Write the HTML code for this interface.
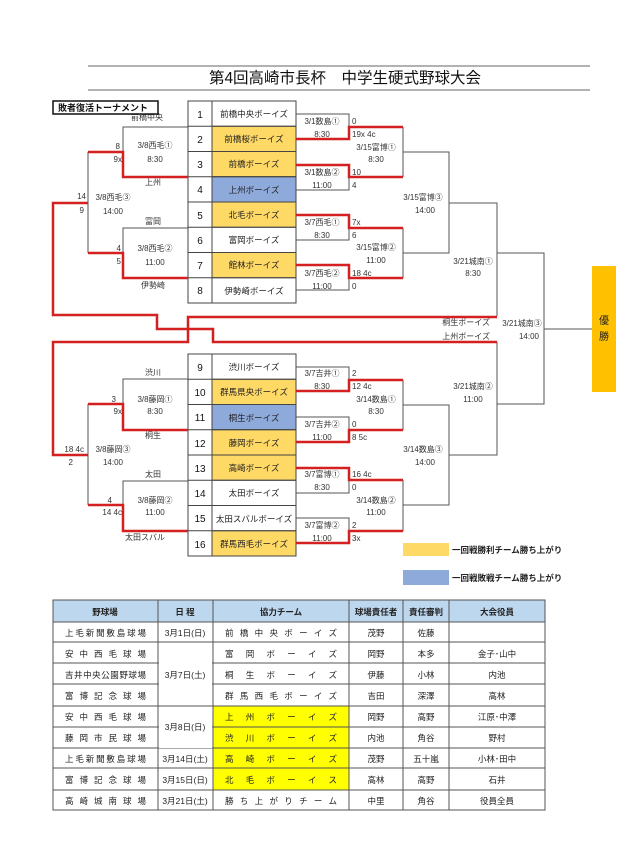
<!DOCTYPE html>
<html><head><meta charset="utf-8"><style>
html,body{margin:0;padding:0;background:#fff;}
svg{display:block;font-family:"Liberation Sans","Noto Sans CJK JP",sans-serif;}
.s{font-size:8px;fill:#333;}
.n{font-size:10px;fill:#111;text-anchor:middle;}
.k{stroke:#555;stroke-width:1;fill:none;}
.r{stroke:#d42020;stroke-width:2.5;fill:none;}
.t{font-size:8.5px;fill:#222;text-anchor:middle;}
.v{text-anchor:start;}
</style></head><body>
<svg width="640" height="861" viewBox="0 0 640 861">
<line x1="88" y1="66" x2="590" y2="66" stroke="#666"/>
<line x1="88" y1="90" x2="590" y2="90" stroke="#666"/>
<text x="345" y="83" font-size="15.5" text-anchor="middle" fill="#111">第4回高崎市長杯　中学生硬式野球大会</text>
<rect x="53" y="101" width="105" height="13" fill="#fff" stroke="#111" stroke-width="1.5"/>
<text x="58" y="111" font-size="9" font-weight="bold" fill="#111">敗者復活トーナメント</text>

<g stroke="#444" stroke-width="1">
<rect x="188" y="101" width="24" height="202" fill="#fff"/>
<rect x="212" y="101" width="84" height="202" fill="#fff"/>
<rect x="188" y="354" width="24" height="202" fill="#fff"/>
<rect x="212" y="354" width="84" height="202" fill="#fff"/>
<rect x="212" y="126.25" width="84" height="25.25" fill="#ffd966"/>
<rect x="212" y="151.5" width="84" height="25.25" fill="#ffd966"/>
<rect x="212" y="176.75" width="84" height="25.25" fill="#8eaadb"/>
<rect x="212" y="202" width="84" height="25.25" fill="#ffd966"/>
<rect x="212" y="252.5" width="84" height="25.25" fill="#ffd966"/>
<rect x="212" y="379.25" width="84" height="25.25" fill="#ffd966"/>
<rect x="212" y="404.5" width="84" height="25.25" fill="#8eaadb"/>
<rect x="212" y="429.75" width="84" height="25.25" fill="#ffd966"/>
<rect x="212" y="455" width="84" height="25.25" fill="#ffd966"/>
<rect x="212" y="530.75" width="84" height="25.25" fill="#ffd966"/>
<path d="M188 126.25H296M188 151.5H296M188 176.75H296M188 202H296M188 227.25H296M188 252.5H296M188 277.75H296"/>
<path d="M188 379.25H296M188 404.5H296M188 429.75H296M188 455H296M188 480.25H296M188 505.5H296M188 530.75H296"/>
</g>
<g>
<text class="n" x="200" y="118">1</text><text class="t" x="254" y="117">前橋中央ボーイズ</text>
<text class="n" x="200" y="143">2</text><text class="t" x="254" y="142">前橋桜ボーイズ</text>
<text class="n" x="200" y="168">3</text><text class="t" x="254" y="167">前橋ボーイズ</text>
<text class="n" x="200" y="193">4</text><text class="t" x="254" y="193">上州ボーイズ</text>
<text class="n" x="200" y="219">5</text><text class="t" x="254" y="218">北毛ボーイズ</text>
<text class="n" x="200" y="244">6</text><text class="t" x="254" y="243">富岡ボーイズ</text>
<text class="n" x="200" y="269">7</text><text class="t" x="254" y="268">館林ボーイズ</text>
<text class="n" x="200" y="294">8</text><text class="t" x="254" y="294">伊勢崎ボーイズ</text>
<text class="n" x="200" y="371">9</text><text class="t" x="254" y="370">渋川ボーイズ</text>
<text class="n" x="200" y="396">10</text><text class="t" x="254" y="395">群馬県央ボーイズ</text>
<text class="n" x="200" y="421">11</text><text class="t" x="254" y="421">桐生ボーイズ</text>
<text class="n" x="200" y="447">12</text><text class="t" x="254" y="446">藤岡ボーイズ</text>
<text class="n" x="200" y="472">13</text><text class="t" x="254" y="471">高崎ボーイズ</text>
<text class="n" x="200" y="497">14</text><text class="t" x="254" y="496">太田ボーイズ</text>
<text class="n" x="200" y="522">15</text><text class="t" x="254" y="522">太田スバルボーイズ</text>
<text class="n" x="200" y="548">16</text><text class="t" x="254" y="547">群馬西毛ボーイズ</text>
</g>

<g class="k">
<path d="M188 127H123V177M188 228H123V278M88 152V253"/>
<path d="M188 379H123V430M188 481H123V531M88 404V505"/>
<path d="M296 114H349V139M296 190H349V165M296 240H349V215M296 290H349V265"/>
<path d="M403 127V177M403 228V278M403 152H449V253H403M449 203H497V316M497 253H544V404H497M544 329H592"/>
<path d="M296 367H349V391M296 417H349V442M296 493H349V468M296 518H349V543"/>
<path d="M403 380V430M403 480V531M403 405H449V505H403M449 455H497V342"/>
</g>
<g class="r">
<path d="M296 139H349V127H403M296 165H349V177H403"/>
<path d="M296 215H349V228H403M296 265H349V278H403"/>
<path d="M296 391H349V380H403M296 442H349V430H403"/>
<path d="M296 468H349V480H403M296 543H349V531H403"/>
<path d="M188 177H123V152H88M188 278H123V253H88"/>
<path d="M188 430H123V404H88M188 531H123V505H88"/>
<path d="M88 203H53V315H157V329H213V342H497"/>
<path d="M88 455H53V342H188V317H497"/>
</g>
<rect x="592" y="266" width="24" height="126" fill="#ffc000"/>
<text x="604" y="324" font-size="10" text-anchor="middle" fill="#222">優</text>
<text x="604" y="340" font-size="10" text-anchor="middle" fill="#222">勝</text>

<g class="s">
<text x="147" y="120" text-anchor="middle">前橋中央</text>
<text x="153" y="185" text-anchor="middle">上州</text>
<text x="153" y="224" text-anchor="middle">富岡</text>
<text x="153" y="288" text-anchor="middle">伊勢崎</text>
<text x="120" y="149" text-anchor="end">8</text><text x="122" y="162" text-anchor="end">9x</text>
<text x="155" y="148" text-anchor="middle">3/8西毛①</text><text x="155" y="162" text-anchor="middle">8:30</text>
<text x="86" y="199" text-anchor="end">14</text><text x="84" y="213" text-anchor="end">9</text>
<text x="113" y="200" text-anchor="middle">3/8西毛③</text><text x="113" y="214" text-anchor="middle">14:00</text>
<text x="121" y="251" text-anchor="end">4</text><text x="121" y="264" text-anchor="end">5</text>
<text x="155" y="251" text-anchor="middle">3/8西毛②</text><text x="155" y="265" text-anchor="middle">11:00</text>

<text x="153" y="375" text-anchor="middle">渋川</text>
<text x="116" y="402" text-anchor="end">3</text><text x="122" y="414" text-anchor="end">9x</text>
<text x="155" y="402" text-anchor="middle">3/8藤岡①</text><text x="155" y="414" text-anchor="middle">8:30</text>
<text x="153" y="438" text-anchor="middle">桐生</text>
<text x="84" y="452" text-anchor="end">18 4c</text><text x="73" y="465" text-anchor="end">2</text>
<text x="113" y="452" text-anchor="middle">3/8藤岡③</text><text x="113" y="465" text-anchor="middle">14:00</text>
<text x="153" y="477" text-anchor="middle">太田</text>
<text x="112" y="503" text-anchor="end">4</text><text x="122" y="515" text-anchor="end">14 4c</text>
<text x="155" y="503" text-anchor="middle">3/8藤岡②</text><text x="155" y="515" text-anchor="middle">11:00</text>
<text x="145" y="540" text-anchor="middle">太田スバル</text>
</g>

<g class="s">
<g text-anchor="middle">
<text x="322" y="124">3/1数島①</text><text x="322" y="137">8:30</text>
<text x="322" y="175">3/1数島②</text><text x="322" y="188">11:00</text>
<text x="322" y="225">3/7西毛①</text><text x="322" y="238">8:30</text>
<text x="322" y="276">3/7西毛②</text><text x="322" y="289">11:00</text>
<text x="376" y="150">3/15富博①</text><text x="376" y="162">8:30</text>
<text x="376" y="250">3/15富博②</text><text x="376" y="263">11:00</text>
<text x="423" y="200">3/15富博③</text><text x="425" y="213">14:00</text>
<text x="473" y="264">3/21城南①</text><text x="473" y="276">8:30</text>
<text x="522" y="326">3/21城南③</text><text x="529" y="339">14:00</text>
<text x="322" y="376">3/7吉井①</text><text x="322" y="389">8:30</text>
<text x="322" y="427">3/7吉井②</text><text x="322" y="440">11:00</text>
<text x="322" y="477">3/7富博①</text><text x="322" y="490">8:30</text>
<text x="322" y="528">3/7富博②</text><text x="322" y="541">11:00</text>
<text x="376" y="402">3/14数島①</text><text x="376" y="414">8:30</text>
<text x="376" y="503">3/14数島②</text><text x="376" y="515">11:00</text>
<text x="423" y="452">3/14数島③</text><text x="425" y="465">14:00</text>
<text x="473" y="389">3/21城南②</text><text x="473" y="402">11:00</text>
</g>
<text x="352" y="124">0</text><text x="352" y="137">19x 4c</text>
<text x="352" y="175">10</text><text x="352" y="188">4</text>
<text x="352" y="225">7x</text><text x="352" y="238">6</text>
<text x="352" y="276">18 4c</text><text x="352" y="289">0</text>
<text x="352" y="376">2</text><text x="352" y="389">12 4c</text>
<text x="352" y="427">0</text><text x="352" y="440">8 5c</text>
<text x="352" y="477">16 4c</text><text x="352" y="490">0</text>
<text x="352" y="528">2</text><text x="352" y="541">3x</text>
<text x="490" y="325" text-anchor="end">桐生ボーイズ</text>
<text x="490" y="339" text-anchor="end">上州ボーイズ</text>
</g>

<rect x="403" y="543" width="46" height="13" fill="#ffd966"/>
<text x="452" y="553" font-size="8.5" font-weight="bold" fill="#222">一回戦勝利チーム勝ち上がり</text>
<rect x="403" y="570" width="46" height="15" fill="#8eaadb"/>
<text x="452" y="581" font-size="8.5" font-weight="bold" fill="#222">一回戦敗戦チーム勝ち上がり</text>

<rect x="53" y="600" width="492" height="22" fill="#bdd7ee"/>
<rect x="213" y="706" width="136" height="84" fill="#ffff00"/>
<g stroke="#555" stroke-width="1" fill="none">
<rect x="53" y="600" width="492" height="210"/>
<path d="M53 622H545M53 642H545M53 663H545M53 684H545M53 706H545M53 727H545M53 748H545M53 768H545M53 790H545"/>
<path d="M158 600V810M349 600V810M403 600V810M449 600V810M213 600V810"/>
</g>
<rect x="159" y="643" width="53" height="62" fill="#fff"/>
<rect x="159" y="707" width="53" height="41" fill="#fff"/>
<g font-size="8.5" fill="#222" text-anchor="middle">
<g font-weight="bold"><text x="105" y="615">野球場</text><text x="185" y="615">日 程</text><text x="281" y="615">協力チーム</text><text x="376" y="615">球場責任者</text><text x="426" y="615">責任審判</text><text x="497" y="615">大会役員</text></g>
<text class="v" x="65" y="636" textLength="81" lengthAdjust="spacing">上毛新聞敷島球場</text>
<text class="v" x="65" y="657" textLength="81" lengthAdjust="spacing">安中西毛球場</text>
<text class="v" x="65" y="678" textLength="81" lengthAdjust="spacing">吉井中央公園野球場</text>
<text class="v" x="65" y="699" textLength="81" lengthAdjust="spacing">富博記念球場</text>
<text class="v" x="65" y="720" textLength="81" lengthAdjust="spacing">安中西毛球場</text>
<text class="v" x="65" y="741" textLength="81" lengthAdjust="spacing">藤岡市民球場</text>
<text class="v" x="65" y="762" textLength="81" lengthAdjust="spacing">上毛新聞敷島球場</text>
<text class="v" x="65" y="783" textLength="81" lengthAdjust="spacing">富博記念球場</text>
<text class="v" x="65" y="804" textLength="81" lengthAdjust="spacing">高崎城南球場</text>
<text x="185" y="636">3月1日(日)</text>
<text x="185" y="678">3月7日(土)</text>
<text x="185" y="730">3月8日(日)</text>
<text x="185" y="762">3月14日(土)</text>
<text x="185" y="783">3月15日(日)</text>
<text x="185" y="804">3月21日(土)</text>
<text class="v" x="225" y="636" textLength="112" lengthAdjust="spacing">前橋中央ボーイズ</text>
<text class="v" x="225" y="657" textLength="112" lengthAdjust="spacing">富岡ボーイズ</text>
<text class="v" x="225" y="678" textLength="112" lengthAdjust="spacing">桐生ボーイズ</text>
<text class="v" x="225" y="699" textLength="112" lengthAdjust="spacing">群馬西毛ボーイズ</text>
<text class="v" x="225" y="720" textLength="112" lengthAdjust="spacing">上州ボーイズ</text>
<text class="v" x="225" y="741" textLength="112" lengthAdjust="spacing">渋川ボーイズ</text>
<text class="v" x="225" y="762" textLength="112" lengthAdjust="spacing">高崎ボーイズ</text>
<text class="v" x="225" y="783" textLength="112" lengthAdjust="spacing">北毛ボーイス</text>
<text class="v" x="225" y="804" textLength="112" lengthAdjust="spacing">勝ち上がりチーム</text>
<text x="376" y="636">茂野</text><text x="426" y="636">佐藤</text>
<text x="376" y="657">岡野</text><text x="426" y="657">本多</text><text x="497" y="657">金子･山中</text>
<text x="376" y="678">伊藤</text><text x="426" y="678">小林</text><text x="497" y="678">内池</text>
<text x="376" y="699">吉田</text><text x="426" y="699">深澤</text><text x="497" y="699">高林</text>
<text x="376" y="720">岡野</text><text x="426" y="720">高野</text><text x="497" y="720">江原･中澤</text>
<text x="376" y="741">内池</text><text x="426" y="741">角谷</text><text x="497" y="741">野村</text>
<text x="376" y="762">茂野</text><text x="426" y="762">五十嵐</text><text x="497" y="762">小林･田中</text>
<text x="376" y="783">高林</text><text x="426" y="783">高野</text><text x="497" y="783">石井</text>
<text x="376" y="804">中里</text><text x="426" y="804">角谷</text><text x="497" y="804">役員全員</text>
</g>
</svg>
</body></html>
